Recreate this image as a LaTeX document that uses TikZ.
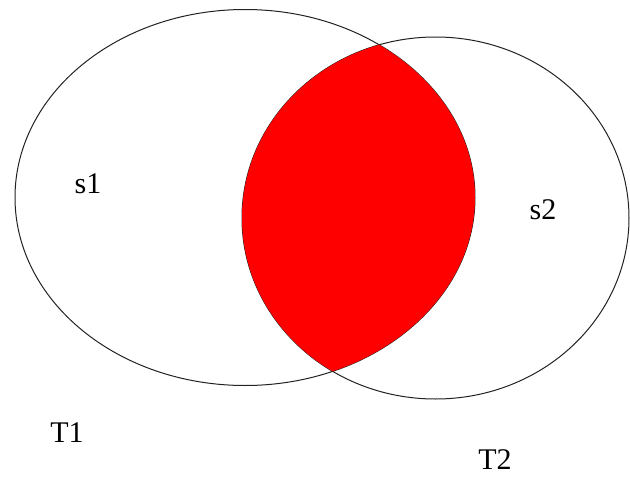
\documentclass[tikz,border=0pt]{standalone}
\usepackage{fontspec}
\setmainfont{Liberation Serif}
\usepackage{xcolor}
\usetikzlibrary{positioning}
\definecolor{meetcol}{HTML}{FF0000}
\definecolor{edgecol}{HTML}{222222}
\tikzset{
  setline/.style={draw=edgecol,line width=1pt},
  meet/.style={fill=meetcol},
  lbl/.style={font=\fontsize{30}{36}\selectfont,inner sep=0pt},
}
\begin{document}
\begin{tikzpicture}[x=1pt,y=-1pt]
  \useasboundingbox (0,0) rectangle (630,482);
  \draw[setline] (245,197.5) ellipse [x radius=230, y radius=188];
  \draw[setline] (435.5,218) ellipse [x radius=193.5, y radius=181];
  \begin{scope}
    \clip (245,197.5) ellipse [x radius=230, y radius=188];
    \fill[meet] (435.5,218) ellipse [x radius=193.5, y radius=181];
  \end{scope}
  \node[lbl] (s1) at (88,184) {s1};
  \node[lbl] (s2) at (543,210) {s2};
  \node[lbl] (T1) at (67,433) {T1};
  \node[lbl] (T2) at (495,460) {T2};
\end{tikzpicture}
\end{document}
